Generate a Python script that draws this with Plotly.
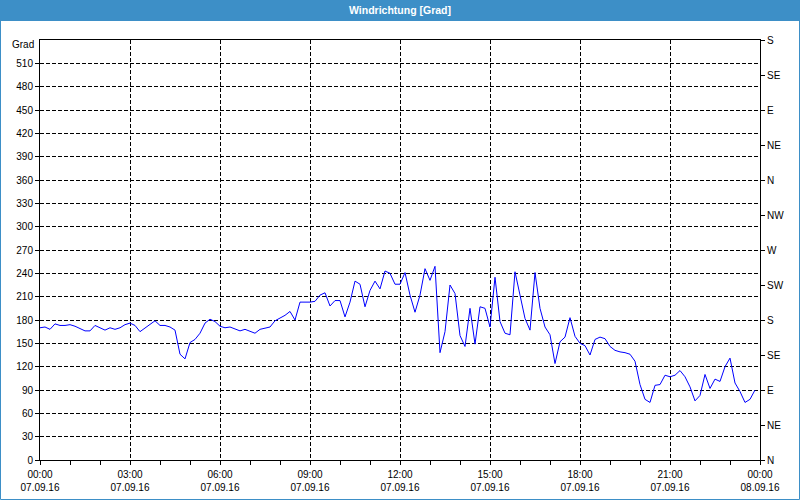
import plotly.graph_objects as go
import pandas as pd

# ---- data (10-minute readings, 07.09.16) ----
start_time = "2016-09-07 00:00"
end_time = "2016-09-08 00:00"
wind_dir = [
    170, 171, 168, 175, 173, 173, 174, 172, 169, 166,
    166, 173, 170, 167, 170, 168, 170, 174, 176, 173,
    165, 170, 175, 179, 173, 173, 171, 167, 136, 130,
    151, 155, 163, 176, 181, 178, 172, 170, 171, 168,
    166, 168, 166, 163, 168, 170, 171, 179, 182, 186,
    191, 180, 203, 203, 203, 204, 212, 215, 198, 205,
    205, 184, 203, 230, 226, 197, 218, 230, 220, 243,
    240, 226, 226, 241, 212, 190, 212, 246, 231, 249,
    138, 165, 225, 214, 160, 146, 195, 149, 197, 195,
    171, 235, 178, 163, 161, 242, 212, 182, 167, 241,
    195, 171, 161, 124, 152, 158, 183, 159, 150, 147,
    135, 155, 158, 156, 146, 141, 139, 138, 136, 127,
    97, 78, 74, 96, 97, 109, 107, 109, 115, 107,
    94, 76, 83, 110, 92, 104, 101, 120, 131, 99,
    88, 74, 78, 90,
]
times = pd.date_range(start_time, periods=len(wind_dir), freq="10min")

x_tick_vals = pd.date_range(start_time, end_time, freq="3h")
x_tick_text = [
    "00:00<br>07.09.16", "03:00<br>07.09.16", "06:00<br>07.09.16",
    "09:00<br>07.09.16", "12:00<br>07.09.16", "15:00<br>07.09.16",
    "18:00<br>07.09.16", "21:00<br>07.09.16", "00:00<br>08.09.16",
]
left_tick_vals = list(range(0, 511, 30))
right_tick_vals = list(range(0, 541, 45))
right_tick_text = ["N", "NE", "E", "SE", "S", "SW", "W", "NW", "N", "NE", "E", "SE", "S"]

title_text = "Windrichtung [Grad]"
unit_text = "Grad"

# ---- figure ----
W, H = 800, 500
L, R, T, B = 40, 40, 40, 40
pw, ph = W - L - R, H - T - B


def px_x(p):
    return (p - L) / pw


def px_y(p):
    return (H - B - p) / ph


fig = go.Figure()
fig.add_trace(go.Scatter(
    x=times, y=wind_dir, mode="lines",
    line=dict(color="#0000ff", width=1),
    showlegend=False, hoverinfo="skip",
))
fig.add_trace(go.Scatter(
    x=times, y=wind_dir, mode="lines", yaxis="y2",
    line=dict(color="rgba(0,0,0,0)", width=1),
    showlegend=False, hoverinfo="skip",
))

blue = "#3d8fc7"
font_family = "Liberation Sans, Arial, sans-serif"

fig.update_layout(
    width=W, height=H,
    margin=dict(l=L, r=R, t=T, b=B, pad=0, autoexpand=False),
    paper_bgcolor="white", plot_bgcolor="white",
    font=dict(family=font_family, size=10, color="black"),
    xaxis=dict(
        type="date", range=[start_time, end_time], automargin=False,
        tickmode="array", tickvals=x_tick_vals, ticktext=x_tick_text,
        ticks="outside", ticklen=4, tickcolor="black", tickwidth=1,
        ticklabelstandoff=1,
        showgrid=True, gridcolor="black", gridwidth=1, griddash="4px,2px",
        showline=True, linecolor="black", linewidth=1, mirror=True,
        zeroline=False,
        minor=dict(dtick=3600000, ticks="outside", ticklen=4,
                   tickcolor="black", showgrid=False),
    ),
    yaxis=dict(
        range=[0, 540], tickmode="array", tickvals=left_tick_vals,
        automargin=False,
        ticks="outside", ticklen=4, tickcolor="black",
        showgrid=True, gridcolor="black", gridwidth=1, griddash="4px,2px",
        showline=True, linecolor="black", linewidth=1, mirror=True,
        zeroline=False,
    ),
    yaxis2=dict(
        range=[0, 540], overlaying="y", side="right", automargin=False,
        tickmode="array", tickvals=right_tick_vals, ticktext=right_tick_text,
        ticks="outside", ticklen=4, tickcolor="black",
        showgrid=False, showline=True, linecolor="black", linewidth=1,
        zeroline=False,
    ),
    shapes=[
        dict(type="rect", xref="paper", yref="paper",
             x0=px_x(0), x1=px_x(W), y0=px_y(21), y1=px_y(0),
             fillcolor=blue, line=dict(width=0), layer="above"),
        dict(type="rect", xref="paper", yref="paper",
             x0=px_x(0.5), x1=px_x(W - 0.5), y0=px_y(H - 0.5), y1=px_y(0.5),
             fillcolor="rgba(0,0,0,0)", line=dict(color=blue, width=1), layer="above"),
    ],
    annotations=[
        dict(text="<b>" + title_text + "</b>", xref="paper", yref="paper",
             x=0.5, y=px_y(10), xanchor="center", yanchor="middle",
             showarrow=False, font=dict(color="white", size=10.5, family=font_family)),
        dict(text=unit_text, xref="paper", yref="paper",
             x=px_x(36), y=px_y(45), xanchor="right", yanchor="middle",
             showarrow=False, font=dict(color="black", size=10, family=font_family)),
    ],
)

fig.write_html("out.html")
